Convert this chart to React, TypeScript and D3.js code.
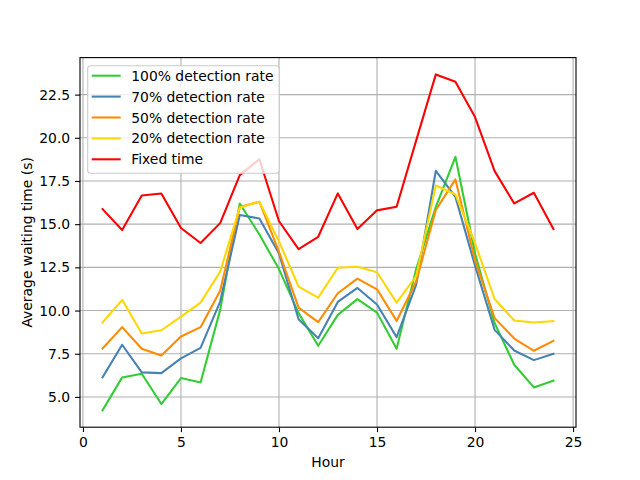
import { useEffect, useRef } from 'react'
import * as d3 from 'd3'

const hours = [1, 2, 3, 4, 5, 6, 7, 8, 9, 10, 11, 12, 13, 14, 15, 16, 17, 18, 19, 20, 21, 22, 23, 24]

const rate100 = [4.22, 6.13, 6.34, 4.59, 6.09, 5.84, 10.04, 16.2, 14.4, 12.4, 9.85, 7.96, 9.75, 10.66, 9.88, 7.79, 12.4, 16.0, 18.9, 13.3, 9.27, 6.86, 5.55, 5.95]
const rate70 = [6.13, 8.02, 6.42, 6.38, 7.23, 7.84, 10.52, 15.53, 15.33, 13.3, 9.5, 8.4, 10.5, 11.31, 10.35, 8.46, 11.5, 18.09, 16.58, 12.6, 8.88, 7.69, 7.13, 7.5]
const rate50 = [7.8, 9.04, 7.79, 7.4, 8.5, 9.04, 11.14, 16.0, 16.3, 13.4, 10.17, 9.33, 11.0, 11.85, 11.23, 9.4, 11.7, 15.82, 17.59, 12.9, 9.56, 8.38, 7.67, 8.25]
const rate20 = [9.31, 10.62, 8.67, 8.86, 9.65, 10.46, 12.25, 15.97, 16.3, 14.0, 11.39, 10.75, 12.48, 12.54, 12.22, 10.46, 12.0, 17.24, 16.72, 13.9, 10.67, 9.42, 9.31, 9.39]
const fixedTime = [15.87, 14.66, 16.66, 16.78, 14.78, 13.91, 15.06, 17.84, 18.76, 15.17, 13.56, 14.27, 16.78, 14.72, 15.8, 16.01, 19.85, 23.67, 23.25, 21.2, 18.07, 16.2, 16.82, 14.72]

const seriesNames = ['100% detection rate', '70% detection rate', '50% detection rate', '20% detection rate', 'Fixed time']
const seriesColors = ['#32cd32', '#4682b4', '#ff8c00', '#ffd700', '#ff0000']
const xTicks = [0, 5, 10, 15, 20, 25]
const yTicks = [5, 7.5, 10, 12.5, 15, 17.5, 20, 22.5]

const FONT = '"DejaVu Sans", sans-serif'

export default function App() {
  const svgRef = useRef<SVGSVGElement>(null)

  useEffect(() => {
    if (!svgRef.current) return
    const width = 640
    const height = 480
    const margin = { top: 57.6, right: 64, bottom: 52.8, left: 80 }
    const innerW = width - margin.left - margin.right
    const innerH = height - margin.top - margin.bottom

    const svg = d3.select(svgRef.current)
    svg.selectAll('*').remove()
    svg.attr('width', width).attr('height', height)

    svg.append('rect').attr('width', width).attr('height', height).attr('fill', '#ffffff')

    const g = svg.append('g').attr('transform', `translate(${margin.left},${margin.top})`)

    const allSeries = [rate100, rate70, rate50, rate20, fixedTime]
    const allValues = allSeries.flat()

    // matplotlib style 5% margins
    const xMin = d3.min(hours) as number
    const xMax = d3.max(hours) as number
    const xPad = (xMax - xMin) * 0.05
    const yMin = d3.min(allValues) as number
    const yMax = d3.max(allValues) as number
    const yPad = (yMax - yMin) * 0.05

    const xScale = d3.scaleLinear().domain([xMin - xPad, xMax + xPad]).range([0, innerW])
    const yScale = d3.scaleLinear().domain([yMin - yPad, yMax + yPad]).range([innerH, 0])

    // Grid
    g.append('g')
      .selectAll('line')
      .data(xTicks)
      .enter().append('line')
      .attr('x1', d => xScale(d))
      .attr('x2', d => xScale(d))
      .attr('y1', 0)
      .attr('y2', innerH)
      .attr('stroke', '#b0b0b0')
      .attr('stroke-width', 1.1)

    g.append('g')
      .selectAll('line')
      .data(yTicks)
      .enter().append('line')
      .attr('x1', 0)
      .attr('x2', innerW)
      .attr('y1', d => yScale(d))
      .attr('y2', d => yScale(d))
      .attr('stroke', '#b0b0b0')
      .attr('stroke-width', 1.1)

    // Lines
    const line = d3.line<number>()
      .x((_, i) => xScale(hours[i]))
      .y(d => yScale(d))

    const plot = g.append('g')
    plot.append('clipPath').attr('id', 'plot-clip')
      .append('rect').attr('width', innerW).attr('height', innerH)
    allSeries.forEach((values, i) => {
      plot.append('path')
        .datum(values)
        .attr('d', line)
        .attr('fill', 'none')
        .attr('stroke', seriesColors[i])
        .attr('stroke-width', 2.08)
        .attr('stroke-linejoin', 'round')
        .attr('stroke-linecap', 'square')
        .attr('clip-path', 'url(#plot-clip)')
    })

    // Axes
    const styleAxis = (ax: d3.Selection<SVGGElement, unknown, null, undefined>) => {
      ax.select('.domain').remove()
      ax.selectAll('.tick line').attr('stroke', '#000').attr('stroke-width', 1.1)
      ax.selectAll('.tick text')
        .attr('fill', '#000')
        .attr('font-size', '13.9px')
        .attr('font-family', FONT)
    }

    g.append('g')
      .attr('transform', `translate(0,${innerH})`)
      .call(d3.axisBottom(xScale).tickValues(xTicks).tickFormat(d3.format('d')).tickSize(4.9).tickPadding(4.9))
      .call(styleAxis)

    g.append('g')
      .call(d3.axisLeft(yScale).tickValues(yTicks).tickFormat(d3.format('.1f')).tickSize(4.9).tickPadding(4.9))
      .call(styleAxis)

    // Spines
    g.append('rect')
      .attr('width', innerW)
      .attr('height', innerH)
      .attr('fill', 'none')
      .attr('stroke', '#000')
      .attr('stroke-width', 1.1)

    // Axis labels
    g.append('text')
      .attr('x', innerW / 2)
      .attr('y', innerH + 40)
      .attr('text-anchor', 'middle')
      .attr('fill', '#000')
      .attr('font-size', '13.9px')
      .attr('font-family', FONT)
      .text('Hour')

    g.append('text')
      .attr('transform', 'rotate(-90)')
      .attr('x', -innerH / 2)
      .attr('y', -48)
      .attr('text-anchor', 'middle')
      .attr('fill', '#000')
      .attr('font-size', '13.9px')
      .attr('font-family', FONT)
      .text('Average waiting time (s)')

    // Legend
    const legend = g.append('g').attr('transform', 'translate(7.7, 8.1)')
    legend.append('rect')
      .attr('width', 191.5)
      .attr('height', 107.6)
      .attr('rx', 3)
      .attr('fill', '#ffffff')
      .attr('fill-opacity', 0.8)
      .attr('stroke', '#cccccc')
      .attr('stroke-width', 1.1)
    seriesNames.forEach((name, i) => {
      const row = legend.append('g').attr('transform', `translate(0, ${10 + i * 20.9})`)
      row.append('line')
        .attr('x1', 4)
        .attr('x2', 33)
        .attr('y1', 0)
        .attr('y2', 0)
        .attr('stroke', seriesColors[i])
        .attr('stroke-width', 2.08)
      row.append('text')
        .attr('x', 43.5)
        .attr('y', 0)
        .attr('dy', '0.36em')
        .attr('fill', '#000')
        .attr('font-size', '13.9px')
        .attr('font-family', FONT)
        .text(name)
    })
  }, [])

  return (
    <svg ref={svgRef} style={{ position: 'absolute', left: 0, top: 0 }} />
  )
}
